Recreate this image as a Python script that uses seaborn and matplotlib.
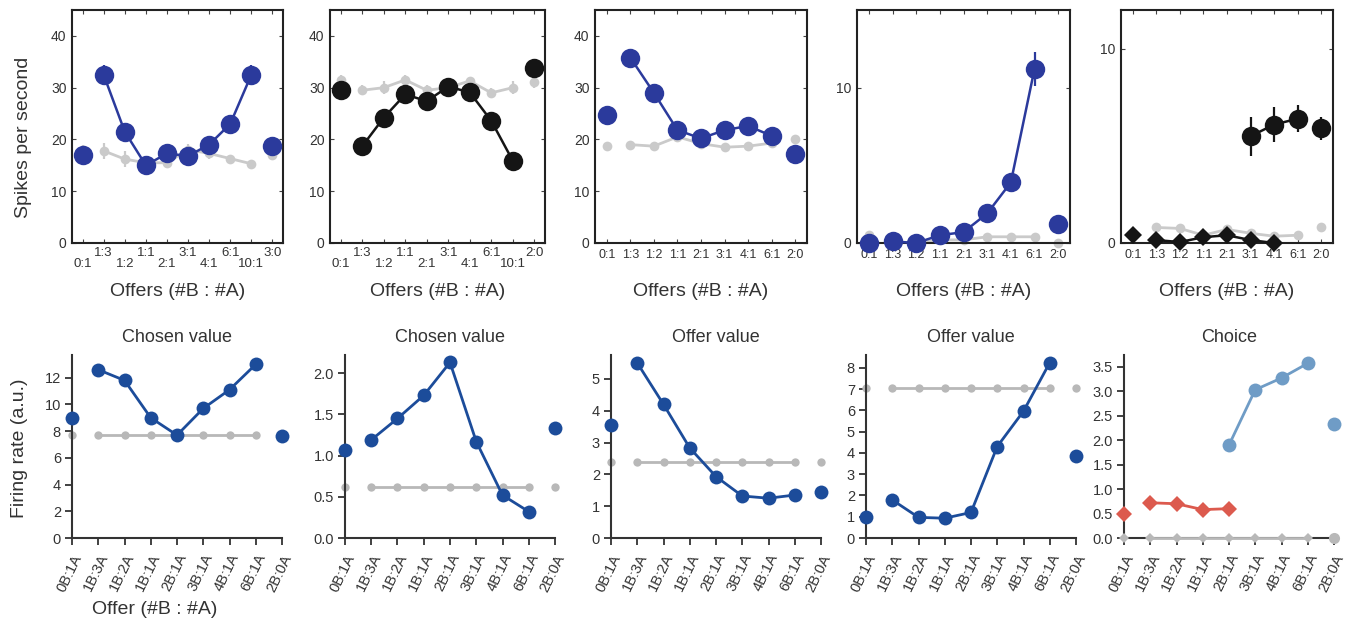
import numpy as np
import pandas as pd
import matplotlib
matplotlib.use("Agg")
import matplotlib.pyplot as plt
import seaborn as sns

sns.set_theme(style="ticks")
plt.rcParams["font.family"] = ["Liberation Sans", "DejaVu Sans"]
plt.rcParams["text.color"] = "#333333"

# ---------------------------------------------------------------------------
# Data
# ---------------------------------------------------------------------------
top_cats_a = ["0:1", "1:3", "1:2", "1:1", "2:1", "3:1", "4:1", "6:1", "10:1", "3:0"]
top_cats_b = ["0:1", "1:3", "1:2", "1:1", "2:1", "3:1", "4:1", "6:1", "10:1", "2:0"]
top_cats_c = ["0:1", "1:3", "1:2", "1:1", "2:1", "3:1", "4:1", "6:1", "2:0"]
bot_cats = ["0B:1A", "1B:3A", "1B:2A", "1B:1A", "2B:1A", "3B:1A", "4B:1A", "6B:1A", "2B:0A"]

# top row, panel 1
p1_blue = [17.0, 32.5, 21.5, 15.0, 17.3, 16.8, 19.0, 23.0, 32.5, 18.8]
p1_blue_err = [0.8, 1.8, 1.2, 1.2, 1.0, 0.8, 1.0, 1.2, 1.8, 0.8]
p1_gray = [18.0, 17.8, 16.2, 15.5, 15.5, 18.0, 17.3, 16.3, 15.3, 17.0]
p1_gray_err = [1.0, 1.5, 1.5, 1.0, 1.0, 1.2, 1.0, 0.6, 0.6, 1.0]

# top row, panel 2
p2_black = [29.6, 18.7, 24.2, 28.7, 27.4, 30.2, 29.1, 23.6, 15.9, 33.8]
p2_black_err = [0.8, 1.2, 1.5, 1.2, 1.0, 0.8, 1.0, 1.0, 0.8, 0.8]
p2_gray = [31.5, 29.5, 30.0, 31.5, 29.5, 30.0, 31.3, 29.0, 30.0, 31.0]
p2_gray_err = [1.0, 1.0, 1.2, 1.0, 1.0, 1.0, 0.8, 1.0, 1.2, 1.0]

# top row, panel 3
p3_blue = [24.8, 35.8, 29.0, 21.8, 20.2, 21.8, 22.6, 20.7, 17.2]
p3_blue_err = [0.6, 0.8, 0.8, 0.6, 0.6, 0.6, 0.6, 0.6, 0.6]
p3_gray = [18.8, 19.0, 18.7, 20.5, 19.2, 18.5, 18.7, 19.3, 20.0]
p3_gray_err = [0.5, 0.5, 0.6, 0.5, 0.5, 0.5, 0.5, 0.5, 0.5]

# top row, panel 4
p4_blue = [0.0, 0.1, 0.0, 0.5, 0.7, 1.9, 3.9, 11.2, 1.2]
p4_blue_err = [0.05, 0.1, 0.05, 0.15, 0.2, 0.25, 0.35, 1.1, 0.2]
p4_gray = [0.5, 0.1, 0.0, 0.2, 0.2, 0.4, 0.4, 0.4, 0.0]

# top row, panel 5
p5_circle = [np.nan, np.nan, np.nan, np.nan, np.nan, 5.5, 6.1, 6.4, 5.9]
p5_circle_err = [0, 0, 0, 0, 0, 1.0, 0.9, 0.7, 0.6]
p5_diamond = [0.4, 0.15, 0.05, 0.3, 0.4, 0.15, 0.0, np.nan, np.nan]
p5_diamond_err = [0.2, 0.2, 0.15, 0.2, 0.25, 0.2, 0.1, 0, 0]
p5_gray = [0.4, 0.8, 0.75, 0.4, 0.7, 0.5, 0.35, 0.4, 0.8]

# bottom row
b1_blue = [8.95, 12.6, 11.8, 9.0, 7.7, 9.7, 11.1, 13.0, 7.6]
b1_gray = [7.7] * 9
b2_blue = [1.07, 1.19, 1.45, 1.73, 2.13, 1.17, 0.52, 0.32, 1.34]
b2_gray = [0.62] * 9
b3_blue = [3.55, 5.5, 4.2, 2.83, 1.93, 1.32, 1.25, 1.35, 1.45]
b3_gray = [2.4] * 9
b4_blue = [1.0, 1.79, 0.97, 0.93, 1.2, 4.3, 5.96, 8.24, 3.86]
b4_gray = [7.05] * 9
b5_lightblue = [np.nan, np.nan, np.nan, np.nan, 1.9, 3.03, 3.27, 3.57, 2.33]
b5_red = [0.5, 0.72, 0.7, 0.58, 0.6, np.nan, np.nan, np.nan, np.nan]
b5_gray_diamond = [0.0, 0.0, 0.0, 0.0, 0.0, 0.0, 0.0, 0.0, np.nan]
b5_gray_circle = [np.nan] * 8 + [0.0]

bot_titles = ["Chosen value", "Chosen value", "Offer value", "Offer value", "Choice"]

# colours
NAVY = "#2b3a9c"
BLUE = "#1c4c9a"
LIGHTBLUE = "#6f9cc6"
RED = "#dc5a4e"
GRAY_T = "#cacaca"
GRAY_B = "#b8b8b8"
BLACK = "#151515"
TXT = "#333333"

W, H = 1346, 629


def fx(px):
    return px / W


def fy(px):
    return 1 - px / H


def series(ax, y, color, seg=None, marker="o", ms=12, lw=1.6, err=None, z=3):
    """Connected segment [lo, hi) through seaborn, loose points drawn alone."""
    y = np.asarray(y, float)
    x = np.arange(len(y))
    lo, hi = seg if seg else (0, 0)
    if hi > lo:
        df = pd.DataFrame({"x": x[lo:hi], "y": y[lo:hi]})
        sns.lineplot(data=df, x="x", y="y", color=color, marker=marker,
                     markersize=ms, markeredgewidth=0, linewidth=lw,
                     estimator=None, sort=False, ax=ax, zorder=z, clip_on=False)
    rest = [i for i in range(len(y)) if not (lo <= i < hi) and np.isfinite(y[i])]
    if rest:
        ax.plot(x[rest], y[rest], ls="none", marker=marker, ms=ms, mew=0,
                color=color, zorder=z, clip_on=False)
    if err is not None:
        ok = np.isfinite(y)
        ax.errorbar(x[ok], y[ok], yerr=np.asarray(err, float)[ok], fmt="none",
                    ecolor=color, elinewidth=1.6, capsize=0, zorder=z)
    ax.set_xlabel("")
    ax.set_ylabel("")


fig = plt.figure(figsize=(W / 100, H / 100), dpi=100)

# ---------------------------------------------------------------------------
# Top row: boxed panels
# ---------------------------------------------------------------------------
top_lefts = [72, 330, 595, 857, 1121]
top_widths = [211, 215, 212, 213, 212]
top_y0, top_y1 = 10, 243
top_axes = []
for l, w in zip(top_lefts, top_widths):
    top_axes.append(fig.add_axes([fx(l), fy(top_y1), w / W, (top_y1 - top_y0) / H]))

top_specs = [
    (top_cats_a, 45, [0, 10, 20, 30, 40], True),
    (top_cats_b, 45, [0, 10, 20, 30, 40], True),
    (top_cats_c, 45, [0, 10, 20, 30, 40], False),
    (top_cats_c, 15, [0, 10], False),
    (top_cats_c, 12, [0, 10], False),
]

for ax, (cats, ytop, yt, stagger) in zip(top_axes, top_specs):
    n = len(cats)
    ax.set_xlim(-0.5, n - 0.5)
    ax.set_ylim(0, ytop)
    ax.set_yticks(yt)
    ax.set_yticklabels([str(v) for v in yt], fontsize=10, color=TXT)
    pos = np.arange(n)
    if stagger:
        ax.set_xticks(pos[1::2], [cats[i] for i in pos[1::2]])
        ax.set_xticks(pos[0::2], [cats[i] for i in pos[0::2]], minor=True)
        ax.tick_params(axis="x", which="major", pad=3)
        ax.tick_params(axis="x", which="minor", pad=11)
        lsize = 9.5
    else:
        ax.set_xticks(pos, cats)
        ax.tick_params(axis="x", which="major", pad=4)
        lsize = 9
    ax.tick_params(axis="x", which="both", direction="in", length=3, width=0.8,
                   top=True, labelsize=lsize, labelcolor=TXT, color="#444444")
    ax.tick_params(axis="y", direction="in", length=3, width=0.8, right=True,
                   pad=4, color="#444444")
    for s in ax.spines.values():
        s.set_visible(True)
        s.set_linewidth(1.5)
        s.set_color("#222222")
    ax.set_facecolor("white")

ax = top_axes[0]
series(ax, p1_gray, GRAY_T, (1, 9), ms=7, lw=2, err=p1_gray_err, z=2)
series(ax, p1_blue, NAVY, (1, 9), ms=14, lw=1.8, err=p1_blue_err, z=3)

ax = top_axes[1]
series(ax, p2_gray, GRAY_T, (1, 9), ms=7, lw=2, err=p2_gray_err, z=2)
series(ax, p2_black, BLACK, (1, 9), ms=14, lw=1.8, err=p2_black_err, z=3)

ax = top_axes[2]
series(ax, p3_gray, GRAY_T, (1, 8), ms=7, lw=2, err=p3_gray_err, z=2)
series(ax, p3_blue, NAVY, (1, 8), ms=14, lw=1.8, err=p3_blue_err, z=3)

ax = top_axes[3]
series(ax, p4_gray, GRAY_T, (1, 8), ms=7, lw=2, z=2)
series(ax, p4_blue, NAVY, (1, 8), ms=14, lw=1.8, err=p4_blue_err, z=3)

ax = top_axes[4]
series(ax, p5_gray, GRAY_T, (1, 8), ms=7, lw=2, z=2)
series(ax, p5_diamond, BLACK, (1, 7), marker="D", ms=9.5, lw=1.8, err=p5_diamond_err, z=3)
series(ax, p5_circle, BLACK, (5, 8), ms=14, lw=1.8, err=p5_circle_err, z=3)

for ax, l, w in zip(top_axes, top_lefts, top_widths):
    fig.text(fx(l + w / 2), fy(292), "Offers (#B : #A)", ha="center", va="center",
             fontsize=14, color=TXT)
fig.text(fx(24), fy(137), "Spikes per second", rotation=90, ha="center",
         va="center", fontsize=14, color=TXT)

# ---------------------------------------------------------------------------
# Bottom row: open panels
# ---------------------------------------------------------------------------
bot_lefts = [72, 345, 611, 866, 1124]
bot_w = 210
bot_y0, bot_y1 = 355, 538
bot_tops = [13.7, 2.22, 5.75, 8.6, 3.74]
bot_ticks = [np.arange(0, 13, 2), np.arange(0, 2.01, 0.5), np.arange(0, 6, 1),
             np.arange(0, 9, 1), np.arange(0, 3.51, 0.5)]
bot_fmt = ["{:.0f}", "{:.1f}", "{:.0f}", "{:.0f}", "{:.1f}"]

bot_axes = []
for l in bot_lefts:
    bot_axes.append(fig.add_axes([fx(l), fy(bot_y1), bot_w / W, (bot_y1 - bot_y0) / H]))

for ax, ytop, yt, fmt, title in zip(bot_axes, bot_tops, bot_ticks, bot_fmt, bot_titles):
    ax.set_xlim(0, len(bot_cats) - 1)
    ax.set_ylim(0, ytop)
    ax.set_yticks(yt)
    ax.set_yticklabels([fmt.format(v) for v in yt], fontsize=10.5, color=TXT)
    ax.set_xticks(np.arange(len(bot_cats)))
    ax.set_xticklabels(bot_cats, rotation=64, ha="right", rotation_mode="anchor",
                       fontsize=10.5, color=TXT)
    ax.tick_params(axis="both", direction="out", length=5, width=1.3,
                   color="#333333", pad=3)
    ax.tick_params(axis="x", pad=5)
    sns.despine(ax=ax)
    for s in ("left", "bottom"):
        ax.spines[s].set_linewidth(1.5)
        ax.spines[s].set_color("#333333")
    ax.set_title(title, fontsize=13, color=TXT, pad=9)
    ax.set_facecolor("none")

series(bot_axes[0], b1_gray, GRAY_B, (1, 8), ms=6, lw=2, z=2)
series(bot_axes[0], b1_blue, BLUE, (1, 8), ms=10, lw=2, z=3)
series(bot_axes[1], b2_gray, GRAY_B, (1, 8), ms=6, lw=2, z=2)
series(bot_axes[1], b2_blue, BLUE, (1, 8), ms=10, lw=2, z=3)
series(bot_axes[2], b3_gray, GRAY_B, (1, 8), ms=6, lw=2, z=2)
series(bot_axes[2], b3_blue, BLUE, (1, 8), ms=10, lw=2, z=3)
series(bot_axes[3], b4_gray, GRAY_B, (1, 8), ms=6, lw=2, z=2)
series(bot_axes[3], b4_blue, BLUE, (1, 8), ms=10, lw=2, z=3)
series(bot_axes[4], b5_gray_diamond, GRAY_B, (1, 8), marker="D", ms=5, lw=2, z=3)
series(bot_axes[4], b5_gray_circle, GRAY_B, None, ms=8, z=3)
series(bot_axes[4], b5_red, RED, (1, 5), marker="D", ms=8, lw=2, z=3)
series(bot_axes[4], b5_lightblue, LIGHTBLUE, (4, 8), ms=10, lw=2, z=3)

fig.text(fx(20), fy(448), "Firing rate (a.u.)", rotation=90, ha="center",
         va="center", fontsize=14, color=TXT)
fig.text(fx(155), fy(610), "Offer (#B : #A)", ha="center", va="center",
         fontsize=14, color=TXT)

fig.savefig("out.png", dpi=100)
